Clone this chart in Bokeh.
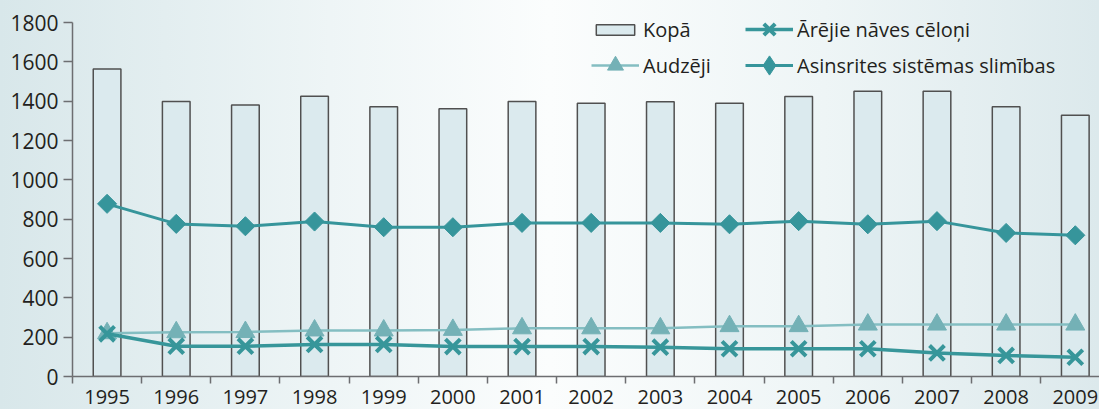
import numpy as np
from bokeh.plotting import figure
from bokeh.models import (ColumnDataSource, FixedTicker, Legend, LegendItem, Range1d)
from bokeh.embed import file_html
from bokeh.resources import INLINE

years = ["1995", "1996", "1997", "1998", "1999", "2000", "2001", "2002",
         "2003", "2004", "2005", "2006", "2007", "2008", "2009"]
kopa = [1564, 1398, 1381, 1425, 1371, 1362, 1398, 1390, 1397, 1390, 1424, 1450, 1450, 1371, 1328]
asinsrites = [878, 776, 764, 788, 759, 759, 781, 781, 781, 774, 790, 774, 790, 730, 718]
audzeji = [220, 225, 226, 234, 234, 237, 245, 245, 245, 256, 256, 264, 264, 264, 264]
arejie = [217, 154, 154, 163, 163, 152, 152, 152, 149, 141, 141, 141, 120, 107, 98]
y_ticks = [0, 200, 400, 600, 800, 1000, 1200, 1400, 1600, 1800]

xpos = [i + 0.5 for i in range(len(years))]
src = ColumnDataSource(dict(x=xpos, year=years, kopa=kopa, asinsrites=asinsrites,
                            audzeji=audzeji, arejie=arejie))

FONT = "Open Sans"
TXT = "#231f20"

W, H = 1099, 409
BOTTOM = 33
FRAME_H = H - BOTTOM
# 0 .. 1800 spans 354 px; the frame extends a little above 1800 for the legend
y_end = 1800 * FRAME_H / 354.0

p = figure(width=W, height=H, output_backend="svg", toolbar_location=None,
           x_range=Range1d(0, 14.85), y_range=Range1d(0, y_end),
           min_border_left=72, min_border_right=0, min_border_top=0, min_border_bottom=BOTTOM)
p.styles = {"background-image": "linear-gradient(to right, #d8e7ea 0%, #eef5f6 30%, #fbfdfd 50%, #eef5f6 75%, #dce9ec 100%)"}
p.border_fill_color = None
p.background_fill_color = None
p.outline_line_color = None
p.grid.visible = False

bars = p.vbar(x="x", top="kopa", width=0.4, bottom=0, source=src,
              fill_color="#dbeaee", line_color="#505050", line_width=1.5)

l_as = p.line("x", "asinsrites", source=src, line_color="#36959b", line_width=3)
m_as = p.scatter("x", "asinsrites", source=src, marker="square", angle=np.pi / 4, size=13.5,
                 fill_color="#36959b", line_color="#36959b")
# diamond shape used only for the legend swatch (size 0 on the plot itself)
lg_as = p.scatter("x", "asinsrites", source=src, marker="diamond", size=0,
                  fill_color="#36959b", line_color="#36959b")

l_au = p.line("x", "audzeji", source=src, line_color="#84bec2", line_width=2.5)
m_au = p.scatter("x", "audzeji", source=src, marker="triangle", size=19,
                 fill_color="#74b1b6", line_color="#74b1b6")

l_ar = p.line("x", "arejie", source=src, line_color="#37969a", line_width=3.5)
m_ar = p.scatter("x", "arejie", source=src, marker="x", size=21, line_width=4,
                 line_color="#37969a")

# axes
xa = p.xaxis[0]
xa.ticker = FixedTicker(ticks=xpos, minor_ticks=list(range(len(years))))
xa.major_label_overrides = {x: y for x, y in zip(xpos, years)}
xa.major_tick_out = 0
xa.major_tick_in = 0
xa.minor_tick_out = 7
xa.minor_tick_in = 0
xa.major_label_standoff = 6
xa.axis_line_color = "#6d6e71"
xa.axis_line_width = 1.5
xa.minor_tick_line_color = "#6d6e71"
xa.minor_tick_line_width = 1.5
xa.major_label_text_font = FONT
xa.major_label_text_font_size = "20px"
xa.major_label_text_color = TXT

ya = p.yaxis[0]
ya.ticker = FixedTicker(ticks=y_ticks)
ya.bounds = (0, 1800)
ya.major_tick_out = 9
ya.major_tick_in = 0
ya.minor_tick_line_color = None
ya.major_label_standoff = 5
ya.axis_line_color = "#6d6e71"
ya.axis_line_width = 1.5
ya.major_tick_line_color = "#6d6e71"
ya.major_tick_line_width = 1.5
ya.major_label_text_font = FONT
ya.major_label_text_font_size = "21px"
ya.major_label_text_color = TXT


def mk_legend(items, loc, gh):
    lg = Legend(items=items, location=loc, orientation="horizontal",
                glyph_width=48, glyph_height=gh, label_standoff=4, label_width=20,
                padding=0, margin=0, spacing=0, border_line_color=None,
                background_fill_alpha=0, label_text_font=FONT,
                label_text_font_size="20px", label_text_color=TXT)
    p.add_layout(lg, "center")
    return lg


mk_legend([LegendItem(label="Kopā", renderers=[bars])], (519, 333), 13)
mk_legend([LegendItem(label="Ārējie nāves cēloņi", renderers=[l_ar, m_ar])], (673, 327), 40)
mk_legend([LegendItem(label="Audzēji", renderers=[l_au, m_au])], (519, 291), 40)
mk_legend([LegendItem(label="Asinsrites sistēmas slimības", renderers=[l_as, lg_as])], (673, 287), 48)

open("out.html", "w").write(file_html(p, INLINE))
